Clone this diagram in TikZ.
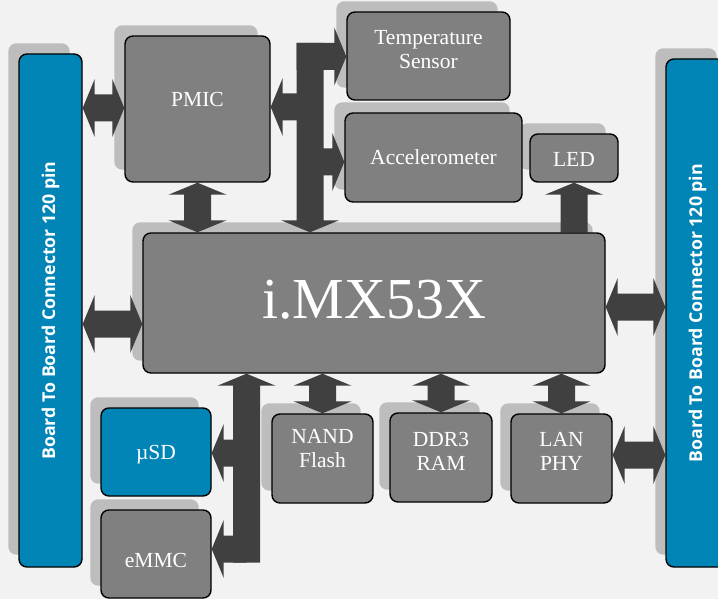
\documentclass[tikz,border=0pt]{standalone}
\usepackage{fontspec}
\setmainfont{Liberation Serif}
\newfontfamily\connfont{Open Sans}
\usetikzlibrary{calc}
\pgfdeclarelayer{bglayer}
\pgfdeclarelayer{shlayer}
\pgfdeclarelayer{arrlayer}
\pgfsetlayers{bglayer,shlayer,arrlayer,main}
\definecolor{bgc}{RGB}{242,242,242}
\definecolor{boxc}{RGB}{128,128,128}
\definecolor{bluec}{RGB}{0,133,182}
\definecolor{arrc}{RGB}{64,64,64}
\definecolor{shc}{RGB}{189,189,189}
\newcommand\ahl{12pt}
\newcommand\ahh{29pt}
\newcommand\ash{13.5pt}
\newcommand\dblH[2]{\fill[arrc] let \p1=#1, \p2=#2 in (\x1,\y1) -- (\x1+\ahl,\y1+\ahh) -- (\x1+\ahl,\y1+\ash) -- (\x2-\ahl,\y1+\ash) -- (\x2-\ahl,\y1+\ahh) -- (\x2,\y1) -- (\x2-\ahl,\y1-\ahh) -- (\x2-\ahl,\y1-\ash) -- (\x1+\ahl,\y1-\ash) -- (\x1+\ahl,\y1-\ahh) -- cycle;}
\newcommand\dblV[2]{\fill[arrc] let \p1=#1, \p2=#2 in (\x1,\y1) -- (\x1+\ahh,\y1-\ahl) -- (\x1+\ash,\y1-\ahl) -- (\x1+\ash,\y2+\ahl) -- (\x1+\ahh,\y2+\ahl) -- (\x1,\y2) -- (\x1-\ahh,\y2+\ahl) -- (\x1-\ash,\y2+\ahl) -- (\x1-\ash,\y1-\ahl) -- (\x1-\ahh,\y1-\ahl) -- cycle;}
\newcommand\sglR[2]{\fill[arrc] let \p1=#1, \p2=#2 in (\x1,\y1+\ash) -- (\x2-\ahl,\y1+\ash) -- (\x2-\ahl,\y1+\ahh) -- (\x2,\y1) -- (\x2-\ahl,\y1-\ahh) -- (\x2-\ahl,\y1-\ash) -- (\x1,\y1-\ash) -- cycle;}
\newcommand\sglL[2]{\fill[arrc] let \p1=#1, \p2=#2 in (\x1,\y1+\ash) -- (\x2+\ahl,\y1+\ash) -- (\x2+\ahl,\y1+\ahh) -- (\x2,\y1) -- (\x2+\ahl,\y1-\ahh) -- (\x2+\ahl,\y1-\ash) -- (\x1,\y1-\ash) -- cycle;}
\newcommand\sglU[2]{\fill[arrc] let \p1=#1, \p2=#2 in (\x1-\ash,\y1) -- (\x1-\ash,\y2-\ahl) -- (\x1-\ahh,\y2-\ahl) -- (\x1,\y2) -- (\x1+\ahh,\y2-\ahl) -- (\x1+\ash,\y2-\ahl) -- (\x1+\ash,\y1) -- cycle;}
\newcommand\sglD[2]{\fill[arrc] let \p1=#1, \p2=#2 in (\x1-\ash,\y1) -- (\x1-\ash,\y2+\ahl) -- (\x1-\ahh,\y2+\ahl) -- (\x1,\y2) -- (\x1+\ahh,\y2+\ahl) -- (\x1+\ash,\y2+\ahl) -- (\x1+\ash,\y1) -- cycle;}
\newcommand\shadowof[1]{\fill[shc, rounded corners=8pt] ($(#1.north west)+(-10,-10)$) rectangle ($(#1.south east)+(-13,-13)$);}
\tikzset{
  box/.style={draw=black, line width=1.4pt, rounded corners=8pt, fill=boxc, inner sep=0pt},
  bluebox/.style={box, fill=bluec},
  lbl/.style={text=white, inner sep=0pt, anchor=base, align=center, font=\fontsize{21.5}{24}\selectfont},
  conntext/.style={text=white, inner sep=0pt, rotate=90, font=\connfont\bfseries\fontsize{17.7}{20}\selectfont}
}
\begin{document}
\begin{tikzpicture}[x=1pt,y=-1pt]
\useasboundingbox (0,0) rectangle (718,599);
\clip (0,0) rectangle (718,599);
\begin{pgfonlayer}{bglayer}
\fill[bgc] (0,0) rectangle (718,599);
\end{pgfonlayer}
% boxes
\node[bluebox, minimum width=63pt, minimum height=513pt] (connL) at (50.5,310.5) {};
\node[bluebox, minimum width=63pt, minimum height=508pt] (connR) at (697.5,313) {};
\node[box, minimum width=145pt, minimum height=146pt] (pmic) at (197.5,109) {};
\node[box, minimum width=163pt, minimum height=88pt] (temp) at (428.5,56) {};
\node[box, minimum width=177pt, minimum height=89pt] (accel) at (433.5,157.5) {};
\node[box, minimum width=88pt, minimum height=48pt] (led) at (574,158) {};
\node[box, minimum width=462pt, minimum height=140pt] (imx) at (374,303) {};
\node[bluebox, minimum width=110pt, minimum height=88pt] (usd) at (156,452) {};
\node[box, minimum width=110pt, minimum height=88pt] (emmc) at (156,554) {};
\node[box, minimum width=101pt, minimum height=89pt] (nand) at (322.5,458.5) {};
\node[box, minimum width=102pt, minimum height=89pt] (ddr) at (441,457.5) {};
\node[box, minimum width=101pt, minimum height=89pt] (lan) at (561.5,458.5) {};
% labels (multi-line labels are placed at the baseline of their last line)
\node[conntext] (connLT) at (connL.center) {Board To Board Connector 120 pin};
\node[conntext] (connRT) at (connR.center) {Board To Board Connector 120 pin};
\node[lbl] (pmicT) at (197.5,107) {PMIC};
\node[lbl] (tempT) at (428.5,69) {Temperature\\Sensor};
\node[lbl] (accelT) at (433.5,165) {Accelerometer};
\node[lbl] (ledT) at (574,167) {LED};
\node[lbl, font=\fontsize{58}{60}\selectfont] (imxT) at (374,318) {i.MX53X};
\node[lbl] (usdT) at (156,459) {µSD};
\node[lbl] (emmcT) at (156,567) {eMMC};
\node[lbl] (nandT) at (322.5,467) {NAND\\Flash};
\node[lbl] (ddrT) at (441,470) {DDR3\\RAM};
\node[lbl] (lanT) at (561.5,470) {LAN\\PHY};
% shadows
\begin{pgfonlayer}{shlayer}
\foreach \n in {connL,connR,pmic,temp,accel,led,imx,usd,emmc,nand,ddr,lan}{\shadowof{\n}}
\end{pgfonlayer}
% arrows
\coordinate (b1top) at (310,43);
\coordinate (b1h) at (296.5,56.5);
\coordinate (b1p) at (310,107);
\coordinate (b1a) at (310,162);
\coordinate (b2bot) at (246.5,562.5);
\coordinate (b2s) at (246.5,453);
\coordinate (b2e) at (246.5,549);
\begin{pgfonlayer}{arrlayer}
\dblH{(connL.east |- 0,108)}{(pmic.west |- 0,108)}
\dblV{(pmic.south)}{(pmic.south |- imx.north)}
\sglD{(b1top)}{(b1top |- imx.north)}
\sglR{(b1h)}{(temp.west |- b1h)}
\sglL{(b1p)}{(pmic.east |- b1p)}
\sglR{(b1a)}{(accel.west |- b1a)}
\sglU{(led.south |- imx.north)}{(led.south)}
\dblH{(connL.east |- 0,324)}{(imx.west |- 0,324)}
\dblH{(imx.east |- 0,307)}{(connR.west |- 0,307)}
\dblH{(lan.east |- 0,455)}{(connR.west |- 0,455)}
\dblV{(nand.north |- imx.south)}{(nand.north)}
\dblV{(ddr.north |- imx.south)}{(ddr.north)}
\dblV{(lan.north |- imx.south)}{(lan.north)}
\sglU{(b2bot)}{(b2bot |- imx.south)}
\sglL{(b2s)}{(usd.east |- b2s)}
\sglL{(b2e)}{(emmc.east |- b2e)}
\end{pgfonlayer}
\end{tikzpicture}
\end{document}
